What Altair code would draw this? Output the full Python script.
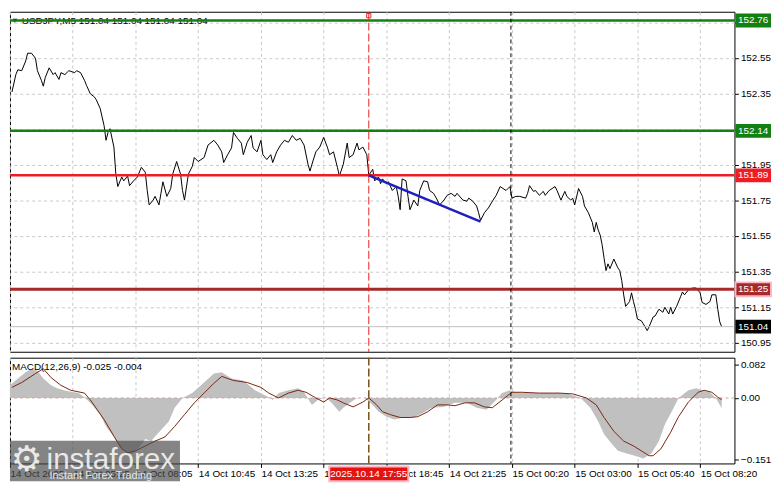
import altair as alt
import pandas as pd

# ---------------- data ----------------
price_bar = [1, 3, 4, 6, 8, 9, 11, 13, 14, 16, 17, 18, 20, 22, 23, 25, 26, 28, 30, 33,
             34, 36, 38, 39, 41, 43, 44, 46, 48, 49, 50, 51, 53, 54, 55, 57, 58, 60, 61, 63,
             65, 67, 69, 70, 71, 73, 74, 76, 77, 78, 80, 82, 83, 85, 87, 88, 89, 91, 93, 94,
             96, 99, 101, 104, 106, 108, 109, 111, 113, 114, 116, 118, 119, 121, 123, 124, 126, 128, 129, 131,
             133, 134, 136, 138, 140, 142, 144, 146, 148, 150, 152, 153, 154, 156, 158, 160, 162, 163, 165, 167,
             168, 170, 172, 173, 175, 177, 178, 180, 182, 183, 185, 186, 188, 189, 190, 192, 193, 195, 197, 198,
             199, 200, 202, 203, 204, 206, 208, 209, 211, 213, 214, 216, 218, 219, 221, 223, 225, 227, 228, 231,
             233, 234, 236, 238, 239, 240, 242, 244, 247, 248, 250, 253, 254, 255, 256, 258, 260, 263, 264, 265,
             267, 268, 270, 272, 273, 275, 278, 279, 281, 283, 284, 286, 287, 288, 290, 292, 293, 295, 297, 298,
             299, 300, 301, 302, 303, 304, 305, 306, 308, 310, 311, 312, 313, 314, 316, 317, 318, 319, 320, 322,
             323, 325, 326, 328, 329, 331, 333, 334, 336, 337, 338, 340, 342, 343, 344, 346, 348, 350, 352, 353,
             355, 357, 358, 360, 361, 362, 363]
price_val = [152.358, 152.456, 152.483, 152.478, 152.532, 152.576, 152.576, 152.548, 152.478, 152.424,
             152.391, 152.440, 152.494, 152.456, 152.467, 152.429, 152.467, 152.456, 152.478, 152.467,
             152.478, 152.467, 152.424, 152.396, 152.348, 152.331, 152.315, 152.266, 152.169, 152.087,
             152.131, 152.152, 152.049, 151.897, 151.827, 151.881, 151.859, 151.886, 151.832, 151.859,
             151.881, 151.935, 151.908, 151.805, 151.724, 151.751, 151.772, 151.724, 151.789, 151.854,
             151.772, 151.816, 151.897, 151.968, 151.897, 151.805, 151.751, 151.897, 151.941, 151.990,
             151.968, 151.990, 152.060, 152.087, 152.060, 152.022, 151.962, 152.006, 152.044, 152.131,
             152.098, 152.071, 152.006, 152.076, 152.114, 152.044, 152.022, 152.087, 152.006, 151.979,
             152.006, 151.962, 152.022, 152.060, 152.087, 152.076, 152.114, 152.087, 152.098, 152.060,
             151.952, 151.914, 151.952, 152.022, 152.049, 152.103, 152.044, 152.006, 152.022, 151.935,
             151.886, 151.952, 152.071, 151.990, 152.006, 152.071, 152.033, 152.049, 152.006, 151.890,
             151.924, 151.859, 151.881, 151.843, 151.870, 151.843, 151.854, 151.805, 151.827, 151.772,
             151.697, 151.870, 151.859, 151.772, 151.697, 151.751, 151.718, 151.805, 151.859, 151.854,
             151.805, 151.789, 151.751, 151.724, 151.745, 151.778, 151.789, 151.772, 151.789, 151.751,
             151.745, 151.762, 151.745, 151.718, 151.680, 151.637, 151.680, 151.707, 151.762, 151.778,
             151.827, 151.805, 151.816, 151.827, 151.762, 151.772, 151.772, 151.762, 151.789, 151.832,
             151.800, 151.805, 151.778, 151.800, 151.778, 151.805, 151.827, 151.805, 151.751, 151.800,
             151.772, 151.751, 151.762, 151.724, 151.816, 151.772, 151.718, 151.680, 151.626, 151.572,
             151.626, 151.583, 151.555, 151.501, 151.425, 151.355, 151.393, 151.366, 151.420, 151.371,
             151.355, 151.300, 151.219, 151.154, 151.181, 151.230, 151.181, 151.138, 151.083, 151.073,
             151.056, 151.018, 151.040, 151.094, 151.100, 151.138, 151.121, 151.149, 151.111, 151.149,
             151.111, 151.154, 151.208, 151.235, 151.219, 151.246, 151.257, 151.257, 151.230, 151.176,
             151.165, 151.181, 151.219, 151.219, 151.138, 151.067, 151.040]

macd_bar = [0, 4, 8, 11, 14, 17, 21, 24, 29, 35, 38, 42, 46, 49, 53, 56, 60, 63, 67, 69,
            72, 76, 81, 84, 88, 93, 99, 104, 108, 113, 119, 125, 132, 134, 137, 142, 147, 150, 154, 157,
            161, 164, 168, 170, 174, 177, 181, 185, 188, 192, 196, 201, 206, 211, 215, 221, 227, 233, 238, 243,
            247, 251, 255, 258, 265, 272, 280, 285, 291, 296, 300, 303, 307, 310, 315, 320, 323, 327, 331, 334,
            338, 341, 346, 350, 353, 357, 360, 363]
macd_val = [0.031, 0.048, 0.063, 0.072, 0.067, 0.048, 0.031, 0.024, 0.017, 0.012, 0.002, -0.017, -0.041, -0.070,
            -0.096, -0.120, -0.137, -0.135, -0.115, -0.101, -0.106, -0.084, -0.058, -0.024, 0.000, 0.012, 0.038,
            0.060, 0.063, 0.048, 0.043, 0.019, 0.002, -0.005, 0.012, 0.019, 0.024, 0.014, -0.017, -0.005, 0.002,
            -0.012, -0.034, -0.024, -0.010, 0.000, 0.000, -0.017, -0.034, -0.046, -0.053, -0.048, -0.048, -0.036,
            -0.024, -0.022, -0.012, -0.012, -0.024, -0.029, -0.010, 0.012, 0.019, 0.014, 0.012, 0.012, 0.012,
            0.010, 0.000, -0.024, -0.058, -0.089, -0.113, -0.130, -0.137, -0.144, -0.149, -0.137, -0.106, -0.065,
            -0.029, 0.000, 0.019, 0.024, 0.019, 0.014, 0.000, -0.025]

signal_bar = [1, 6, 13, 17, 21, 26, 31, 38, 41, 48, 53, 57, 60, 64, 69, 74, 79, 84, 89, 94,
              99, 104, 108, 114, 121, 128, 132, 137, 142, 147, 151, 156, 160, 163, 167, 170, 175, 180, 183, 187,
              190, 194, 199, 204, 208, 213, 218, 223, 227, 232, 237, 242, 246, 251, 256, 261, 270, 280, 287, 294,
              299, 303, 308, 313, 318, 322, 326, 328, 332, 337, 341, 346, 351, 354, 358, 361, 363]
signal_val = [0.026, 0.038, 0.060, 0.072, 0.050, 0.031, 0.019, 0.012, -0.005, -0.053, -0.094, -0.125, -0.135,
              -0.130, -0.118, -0.106, -0.096, -0.070, -0.041, -0.012, 0.012, 0.036, 0.053, 0.043, 0.038, 0.026,
              0.012, 0.000, 0.012, 0.019, 0.014, 0.000, -0.010, 0.000, -0.005, -0.012, -0.022, -0.010, 0.000,
              -0.017, -0.034, -0.041, -0.048, -0.048, -0.046, -0.034, -0.017, -0.017, -0.019, -0.012, -0.012,
              -0.022, -0.024, -0.005, 0.014, 0.014, 0.012, 0.012, 0.010, 0.000, -0.017, -0.048, -0.082, -0.106,
              -0.118, -0.130, -0.142, -0.142, -0.125, -0.084, -0.046, -0.010, 0.014, 0.019, 0.014, 0.002, -0.004]

level_price = [152.76, 152.14, 151.89, 151.25]
level_label = ["152.76", "152.14", "151.89", "151.25"]
selected_level = "151.25"
bid_price = [151.04]
bid_label = ["151.04"]

trend_bar = [183, 240]
trend_val = [151.89, 151.63]

price_tick_values = [150.95, 151.15, 151.35, 151.55, 151.75, 151.95, 152.15, 152.35, 152.55, 152.75]
hidden_price_ticks = [152.15, 152.75]
time_tick_bars = [0, 32, 64, 96, 128, 160, 192, 224, 256, 288, 320, 352]
time_tick_labels = ["14 Oct 2025", "14 Oct 05:25", "14 Oct 08:05", "14 Oct 10:45", "14 Oct 13:25",
                    "14 Oct 16:05", "14 Oct 18:45", "14 Oct 21:25", "15 Oct 00:20", "15 Oct 03:00",
                    "15 Oct 05:40", "15 Oct 08:20"]
macd_tick_values = [0.082, 0.0, -0.151]

cursor_bar = [183]
cursor_label = ["2025.10.14 17:55"]
day_separator_bar = [255.5]

title_text = ["USDJPY,M5  151.04 151.04 151.04 151.04"]
macd_text = ["MACD(12,26,9) -0.025 -0.004"]
brand_text = ["instaforex"]
brand_sub = ["Instant Forex Trading"]
gear_glyph = ["\u2699"]

# ---------------- layout / style ----------------
W, H1, H2 = 733, 344, 107
FONT = "Liberation Sans"
GRID = "#c8c8c8"
LEVEL_COLORS = ["#138013", "#138013", "#ee1c24", "#a52a2a"]

xs = alt.Scale(domain=[0, 369.5], nice=False, zero=False)
ys_p = alt.Scale(domain=[150.899, 152.809], nice=False, zero=False)
ys_m = alt.Scale(domain=[-0.161, 0.099], nice=False, zero=False)

price_df = pd.DataFrame({"bar": price_bar, "price": price_val})
level_df = pd.DataFrame({"price": level_price, "label": level_label})
bid_df = pd.DataFrame({"price": bid_price, "label": bid_label})
trend_df = pd.DataFrame({"bar": trend_bar, "price": trend_val})
cursor_df = pd.DataFrame({"bar": cursor_bar, "label": cursor_label})
sep_df = pd.DataFrame({"bar": day_separator_bar})
hist_df = pd.DataFrame({"bar": macd_bar, "v": macd_val})
sig_df = pd.DataFrame({"bar": signal_bar, "v": signal_val})
zero_df = pd.DataFrame({"v": [0.0]})
one = pd.DataFrame({"t": title_text})

hidden_cond = " || ".join(f"abs(datum.value-{v})<0.001" for v in hidden_price_ticks)
XA_MAIN = alt.Axis(values=time_tick_bars, labels=False, ticks=False, domain=False, grid=True,
                   gridDash=[3, 3], gridColor=GRID, title=None)
YA_MAIN = alt.Axis(orient="right", values=price_tick_values,
                   labelExpr=f"({hidden_cond}) ? '' : format(datum.value, '.2f')",
                   grid=True, gridDash=[3, 3], gridColor=GRID, domain=False, tickSize=4,
                   tickColor="black", labelPadding=2, title=None)

tb = "[" + ",".join(str(b) for b in time_tick_bars) + "]"
tl = "[" + ",".join(f"'{t}'" for t in time_tick_labels) + "]"
XA_MACD = alt.Axis(values=time_tick_bars, labelExpr=f"{tl}[indexof({tb}, datum.value)]",
                   labelAlign="left", labelBaseline="top", labelPadding=1, tickSize=4,
                   tickColor="black", grid=True, gridDash=[3, 3], gridColor=GRID, domain=False,
                   labelOverlap=False, labelFlush=False, title=None)
YA_MACD = alt.Axis(orient="right", values=macd_tick_values,
                   labelExpr="datum.value == 0 ? '0.00' : format(datum.value, '.3f')",
                   grid=False, domain=False, tickSize=4, tickColor="black", labelPadding=2, title=None)


def xm(f="bar:Q"):
    return alt.X(f, scale=xs, axis=XA_MAIN)


def ym(f="price:Q"):
    return alt.Y(f, scale=ys_p, axis=YA_MAIN)


def xc(f="bar:Q"):
    return alt.X(f, scale=xs, axis=XA_MACD)


def yc(f="v:Q"):
    return alt.Y(f, scale=ys_m, axis=YA_MACD)


level_color = alt.Color("label:N", scale=alt.Scale(domain=level_label, range=LEVEL_COLORS), legend=None)

# ---------------- main panel ----------------
price_line = alt.Chart(price_df).mark_line(color="black", strokeWidth=1).encode(x=xm(), y=ym())

title_mark = alt.Chart(one).mark_text(align="left", baseline="middle", fontSize=10, font=FONT,
                                      color="black").encode(x=alt.value(12), y=alt.value(9), text="t:N")
title_tri = alt.Chart(one).mark_point(shape="triangle-down", filled=True, color="black", size=22,
                                      opacity=1).encode(x=alt.value(5), y=alt.value(9))

bid_rule = alt.Chart(bid_df).mark_rule(color="#c0c0c0", strokeWidth=1).encode(y=ym())

level_rules = alt.Chart(level_df).mark_rule().encode(
    y=ym(), color=level_color,
    strokeWidth=alt.condition(alt.datum.label == selected_level, alt.value(3), alt.value(2.5)))

sep_main = alt.Chart(sep_df).mark_rule(color="black", strokeDash=[4, 3], strokeWidth=1).encode(x=xm())
cursor_main = alt.Chart(cursor_df).mark_rule(color="#e8201b", strokeDash=[8, 3], strokeWidth=1).encode(x=xm())
cursor_sq = alt.Chart(cursor_df).mark_point(shape="square", size=18, color="#e8201b", filled=False,
                                            strokeWidth=1, opacity=1).encode(x=xm(), y=alt.value(4))

trend = alt.Chart(trend_df).mark_line(color="#1f1fc0", strokeWidth=2.5).encode(x=xm(), y=ym())

level_boxes = alt.Chart(level_df).mark_rect(yOffset=-7, y2Offset=7, opacity=1).encode(
    y=ym(), y2="price:Q", x=alt.value(W + 1), x2=alt.value(W + 37),
    color=level_color,
    stroke=alt.condition(alt.datum.label == selected_level, alt.value("#ffb6c8"), alt.value("transparent")),
    strokeWidth=alt.value(2))
bid_box = alt.Chart(bid_df).mark_rect(yOffset=-7, y2Offset=7, opacity=1, color="black").encode(
    y=ym(), y2="price:Q", x=alt.value(W + 1), x2=alt.value(W + 37))
level_text = alt.Chart(pd.concat([level_df, bid_df])).mark_text(
    color="white", fontSize=10, font=FONT, align="center", baseline="middle").encode(
    y=ym(), x=alt.value(W + 19), text="label:N")

main = alt.layer(price_line, title_mark, title_tri, bid_rule, level_rules, sep_main, cursor_main,
                 cursor_sq, trend, level_boxes, bid_box, level_text).properties(width=W, height=H1)

# ---------------- MACD panel ----------------
hist = alt.Chart(hist_df).mark_area(color="#c0c0c0", opacity=1).encode(x=xc(), y=yc(), y2=alt.datum(0))
zero_rule = alt.Chart(zero_df).mark_rule(color="#c8a8a8", strokeDash=[3, 3], strokeWidth=1).encode(y=yc())
signal = alt.Chart(sig_df).mark_line(color="#7a2410", strokeWidth=1).encode(x=xc(), y=yc())
sep_macd = alt.Chart(sep_df).mark_rule(color="black", strokeDash=[4, 3], strokeWidth=1).encode(x=xc())
cursor_macd = alt.Chart(cursor_df).mark_rule(color="#7a5015", strokeDash=[8, 3], strokeWidth=1.5).encode(x=xc())
macd_label = alt.Chart(pd.DataFrame({"t": macd_text})).mark_text(
    align="left", baseline="middle", fontSize=10, font=FONT, color="black").encode(
    x=alt.value(2), y=alt.value(9), text="t:N")

wm_rect = alt.Chart(one).mark_rect(color="#4a4a4a", opacity=0.68).encode(
    x=alt.value(0), x2=alt.value(172), y=alt.value(84), y2=alt.value(H2 + 18))
wm_gear = alt.Chart(pd.DataFrame({"t": gear_glyph})).mark_text(
    font="DejaVu Sans", fontSize=36, color="#f4f4f4", align="center", baseline="middle", opacity=0.9).encode(
    x=alt.value(17), y=alt.value(104), text="t:N")
wm_text = alt.Chart(pd.DataFrame({"t": brand_text})).mark_text(
    font=FONT, fontSize=30, color="#f4f4f4", align="left", baseline="alphabetic", opacity=0.9).encode(
    x=alt.value(37), y=alt.value(113), text="t:N")
wm_sub = alt.Chart(pd.DataFrame({"t": brand_sub})).mark_text(
    font=FONT, fontSize=11, color="#f0f0f0", align="left", baseline="alphabetic", opacity=0.9).encode(
    x=alt.value(40), y=alt.value(H2 + 16), text="t:N")

time_box = alt.Chart(cursor_df).mark_rect(xOffset=-40, x2Offset=40, opacity=1, color="#e3140f",
                                          stroke="#ffb6c8", strokeWidth=2).encode(
    x=xc(), x2="bar:Q", y=alt.value(H2 + 3), y2=alt.value(H2 + 18))
time_text = alt.Chart(cursor_df).mark_text(color="white", fontSize=10, font=FONT, align="center",
                                           baseline="middle").encode(
    x=xc(), y=alt.value(H2 + 10.5), text="label:N")

macd = alt.layer(hist, zero_rule, signal, sep_macd, cursor_macd, macd_label, wm_rect, wm_gear, wm_text,
                 wm_sub, time_box, time_text).properties(width=W, height=H2)

chart = alt.vconcat(main, macd, spacing=3).properties(
    padding={"left": 0, "top": 0, "right": 0, "bottom": 0}, background="white"
).configure_view(stroke="black", strokeWidth=1).configure_axis(
    labelFont=FONT, labelFontSize=10, labelColor="black")

chart.save("out.html", embed_options={"renderer": "svg", "actions": False})
